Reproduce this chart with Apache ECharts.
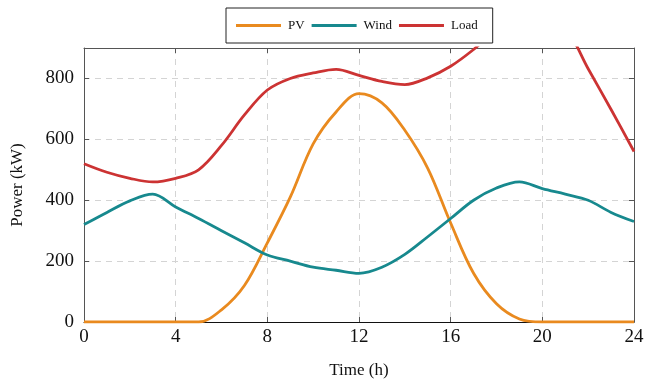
<!DOCTYPE html>
<html><head><meta charset="utf-8">
<script src="https://cdn.jsdelivr.net/npm/echarts@6/dist/echarts.min.js"></script>
<style>html,body{margin:0;padding:0;background:#fff}#c{width:645px;height:379px}</style>
</head><body><div id="c"></div>
<script>
var hours = [0,1,2,3,4,5,6,7,8,9,10,11,12,13,14,15,16,17,18,19,20,21,22,23,24];
var pv   = [0,0,0,0,0,0,40,120,260,410,585,690,750,720,630,505,325,160,60,10,0,0,0,0,0];
var wind = [320,360,398,420,378,340,300,260,220,200,180,170,160,180,222,280,340,400,440,460,438,420,400,360,330];
var load = [520,492,472,460,472,500,580,680,762,800,818,830,810,790,780,802,840,895,960,1000,1000,965,832,698,560];
var xTicks = [0,4,8,12,16,20,24];
var yTicks = [0,200,400,600,800];
var seriesNames = ['PV','Wind','Load'];
var colors = ['#E98A1F','#17898E','#CC3333'];

function pairs(arr){ return hours.map(function(h,i){ return [h, arr[i]]; }); }
var font = 'Liberation Serif';
var chart = echarts.init(document.getElementById('c'), null, {renderer:'canvas'});
var gridLine = {show:true, lineStyle:{color:'#d4d4d4', type:[6,5], width:1}};
chart.setOption({
  animation:false,
  textStyle:{fontFamily:font},
  legend:{
    top:8, left:226,
    data:seriesNames,
    itemWidth:45, itemHeight:3, itemGap:7,
    icon:'rect',
    borderColor:'#222', borderWidth:1, padding:[11,15,11,10],
    textStyle:{fontFamily:font, fontSize:13, color:'#111', padding:[0,0,0,2]}
  },
  grid:{left:84, right:11, top:48, bottom:57, containLabel:false, outerBoundsMode:'none'},
  xAxis:[{
    type:'value', min:0, max:24, interval:4,
    name:'Time (h)', nameLocation:'middle', nameGap:40,
    nameTextStyle:{fontFamily:font, fontSize:17, color:'#111'},
    axisLine:{onZero:false, lineStyle:{color:'#111', width:1}},
    axisTick:{inside:true, length:5, lineStyle:{color:'#555'}},
    axisLabel:{fontFamily:font, fontSize:19, color:'#111', margin:6,
      formatter:function(v){ return xTicks.indexOf(v)>=0 ? String(v) : ''; }},
    splitLine:gridLine
  },{
    type:'value', min:0, max:24, interval:4, position:'top',
    axisLine:{onZero:false, lineStyle:{color:'#555', width:1}},
    axisTick:{inside:true, length:5, lineStyle:{color:'#555'}},
    axisLabel:{show:false}, splitLine:{show:false}
  }],
  yAxis:[{
    type:'value', min:0, max:900, interval:200,
    name:'Power (kW)', nameLocation:'middle', nameGap:58,
    nameTextStyle:{fontFamily:font, fontSize:17, color:'#111'},
    axisLine:{show:true, onZero:false, lineStyle:{color:'#555', width:1}},
    axisTick:{show:true, inside:true, length:5, lineStyle:{color:'#555'}},
    axisLabel:{fontFamily:font, fontSize:19, color:'#111', margin:10, showMaxLabel:false,
      formatter:function(v){ return yTicks.indexOf(v)>=0 ? String(v) : ''; }},
    splitLine:gridLine
  },{
    type:'value', min:0, max:900, interval:200, position:'right',
    axisLine:{show:true, onZero:false, lineStyle:{color:'#555', width:1}},
    axisTick:{show:true, inside:true, length:5, lineStyle:{color:'#555'}},
    axisLabel:{show:false}, splitLine:{show:false}
  }],
  series:[pv, wind, load].map(function(arr,i){
    return {
      name:seriesNames[i], type:'line', data:pairs(arr), smooth:0.35,
      showSymbol:false, symbol:'none', clip:true,
      lineStyle:{color:colors[i], width:2.8},
      itemStyle:{color:colors[i]}
    };
  })
});
</script></body></html>
